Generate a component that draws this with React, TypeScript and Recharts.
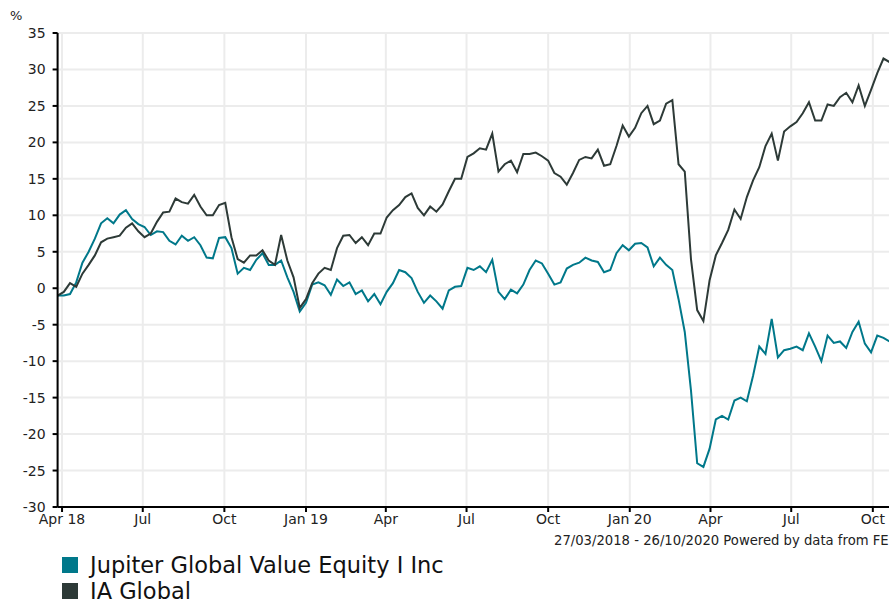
import { LineChart, Line, XAxis, YAxis, CartesianGrid } from "recharts";

const DAY = 86400000;
const START = Date.UTC(2018, 2, 27);
const END = Date.UTC(2020, 9, 26);

// weekly fund vs sector performance, % since 27/03/2018
const fundValues = [
  -1, -1, -0.8, 0.8, 3.5, 5, 6.8, 8.9, 9.6, 8.9,
  10.1, 10.7, 9.5, 8.8, 8.4, 7.3, 7.8, 7.7, 6.5, 6,
  7.2, 6.5, 7, 5.9, 4.2, 4.1, 6.9, 7, 5.5, 2,
  2.8, 2.5, 3.9, 4.8, 3.2, 3.2, 3.8, 1.5, -0.5, -3.2,
  -2, 0.5, 0.8, 0.4, -0.9, 1.2, 0.3, 0.8, -0.8, -0.3,
  -1.8, -0.8, -2.2, -0.5, 0.7, 2.5, 2.2, 1.4, -0.5, -2,
  -1, -1.8, -2.8, -0.3, 0.2, 0.3, 2.8, 2.5, 3, 2.2,
  3.9, -0.5, -1.5, -0.2, -0.7, 0.5, 2.5, 3.8, 3.4, 2,
  0.5, 0.8, 2.7, 3.2, 3.5, 4.2, 3.8, 3.6, 2.2, 2.5,
  4.8, 5.9, 5.2, 6.1, 6.2, 5.6, 3, 4.2, 3.2, 2.5,
  -1.5, -6, -14, -24, -24.5, -22, -18, -17.5, -18, -15.4,
  -15, -15.5, -12, -8, -9, -4.2, -9.5, -8.5, -8.3, -8,
  -8.5, -6.2, -8, -10, -6.5, -7.5, -7.3, -8.2, -6, -4.6,
  -7.6, -8.8, -6.5, -6.8, -7.3,
];

const sectorValues = [
  -1, -0.5, 0.7, 0.2, 2, 3.2, 4.5, 6.3, 6.8, 7,
  7.2, 8.3, 8.9, 7.8, 7, 7.5, 9.1, 10.4, 10.5, 12.3,
  11.8, 11.6, 12.8, 11.2, 10, 10, 11.4, 11.7, 7, 4,
  3.5, 4.5, 4.5, 5.2, 3.8, 3.2, 7.3, 3.8, 1.5, -2.7,
  -1.5, 0.7, 2, 2.8, 2.5, 5.5, 7.2, 7.3, 6.2, 7,
  5.9, 7.5, 7.5, 9.7, 10.7, 11.4, 12.5, 13, 11, 10,
  11.2, 10.5, 11.5, 13.3, 15, 15, 18, 18.5, 19.2, 19,
  21.2, 16, 17, 17.5, 15.9, 18.4, 18.4, 18.6, 18.1, 17.5,
  15.8, 15.3, 14.2, 15.8, 17.6, 18, 17.8, 19, 16.8, 17,
  19.5, 22.3, 20.8, 22, 24, 25, 22.5, 23, 25.3, 25.8,
  17, 16, 4, -3, -4.5, 1.1, 4.5, 6.2, 8, 10.8,
  9.5, 12.5, 14.8, 16.6, 19.5, 21.2, 17.5, 21.5, 22.2, 22.8,
  24, 25.5, 23, 23, 25.2, 25, 26.2, 26.8, 25.5, 27.8,
  25, 27.2, 29.5, 31.5, 31,
];

const tickDates = [
  Date.UTC(2018, 3, 1), Date.UTC(2018, 6, 1), Date.UTC(2018, 9, 1),
  Date.UTC(2019, 0, 1), Date.UTC(2019, 3, 1), Date.UTC(2019, 6, 1),
  Date.UTC(2019, 9, 1), Date.UTC(2020, 0, 1), Date.UTC(2020, 3, 1),
  Date.UTC(2020, 6, 1), Date.UTC(2020, 9, 1),
];
const tickLabels = ["Apr 18", "Jul", "Oct", "Jan 19", "Apr", "Jul", "Oct", "Jan 20", "Apr", "Jul", "Oct"];
const yTicks = [-30, -25, -20, -15, -10, -5, 0, 5, 10, 15, 20, 25, 30, 35];

const FUND_COLOR = "#00788a";
const SECTOR_COLOR = "#2d3a37";

const data = fundValues.map((v, i) => ({
  date: START + i * 7 * DAY,
  fund: v,
  sector: sectorValues[i],
}));

const font = "'DejaVu Sans', Verdana, sans-serif";

export default function App() {
  return (
    <div
      style={{
        position: "absolute",
        left: 0,
        top: 0,
        width: 889,
        height: 604,
        overflow: "hidden",
        background: "#fff",
        fontFamily: font,
      }}
    >
      <div style={{ position: "absolute", left: 10, top: 8, fontSize: 13, color: "#222" }}>%</div>
      <LineChart
        width={900}
        height={540}
        data={data}
        margin={{ top: 33, right: 5, bottom: 8, left: 0 }}
      >
        <CartesianGrid stroke="#ececec" strokeWidth={2} />
        <XAxis
          dataKey="date"
          type="number"
          scale="time"
          domain={[START, END]}
          ticks={tickDates}
          tickFormatter={(t: number) => tickLabels[tickDates.indexOf(t)] ?? ""}
          height={25}
          stroke="#000"
          strokeWidth={2}
          tickSize={5}
          tick={{ fill: "#222", fontSize: 14, fontFamily: font }}
          interval={0}
        />
        <YAxis
          type="number"
          domain={[-30, 35]}
          ticks={yTicks}
          width={57.6}
          stroke="#000"
          strokeWidth={2}
          tickSize={5}
          tickMargin={7}
          tick={{ fill: "#222", fontSize: 14, fontFamily: font }}
          interval={0}
        />
        <Line
          dataKey="fund"
          stroke={FUND_COLOR}
          strokeWidth={2}
          dot={false}
          type="linear"
          isAnimationActive={false}
        />
        <Line
          dataKey="sector"
          stroke={SECTOR_COLOR}
          strokeWidth={2}
          dot={false}
          type="linear"
          isAnimationActive={false}
        />
      </LineChart>
      <div style={{ position: "absolute", left: 554, top: 533, fontSize: 13.2, color: "#222", whiteSpace: "nowrap" }}>
        27/03/2018 - 26/10/2020 Powered by data from FE
      </div>
      <div style={{ position: "absolute", left: 62, top: 551.5, fontSize: 22.5, color: "#111", lineHeight: "26.3px" }}>
        <div style={{ display: "flex", alignItems: "center" }}>
          <span style={{ width: 16, height: 16, background: FUND_COLOR, display: "inline-block", marginRight: 12 }} />
          Jupiter Global Value Equity I Inc
        </div>
        <div style={{ display: "flex", alignItems: "center" }}>
          <span style={{ width: 16, height: 16, background: SECTOR_COLOR, display: "inline-block", marginRight: 12 }} />
          IA Global
        </div>
      </div>
    </div>
  );
}
